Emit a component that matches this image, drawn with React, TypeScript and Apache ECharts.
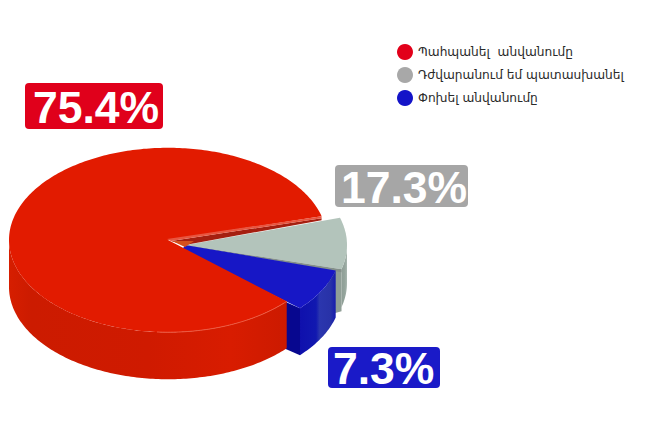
import React, { useEffect, useRef } from "react";
import * as echarts from "echarts";

// The printed shares and the slice sweeps do not agree in the source picture,
// so both are kept as they were read from it.
const categories = ["Պահպանել  անվանումը", "Դժվարանում եմ պատասխանել", "Փոխել անվանումը"];
const shares = [75.4, 17.3, 7.3];
const startAngles = [15, -15, -42.5];
const sweeps = [303.3, 32, 27.5];

const RATIO = 0.58;
const depths = [47, 38, 47];
const centres = [[168, 240], [186, 245], [185, 247]];
const radii = [159, 161, 156];
const topColors = ["#e21b00", "#b3c4bb", "#1717c6"];
const legendColors = ["#e2001a", "#a8a8a8", "#1414c8"];
const boxColors = ["#e0001b", "#a6a6a6", "#1a1ac8"];
const boxes = [[25, 83, 138, 46], [335, 165, 133, 42], [328, 347, 112, 41]];
const textPads = [8, 6, 5];

function pt(i: number, deg: number, dy = 0) {
  const a = (deg * Math.PI) / 180;
  return [
    centres[i][0] + radii[i] * Math.cos(a),
    centres[i][1] - radii[i] * RATIO * Math.sin(a) + dy,
  ];
}

function arc(i: number, from: number, to: number, dy = 0) {
  const n = Math.max(2, Math.ceil(Math.abs(to - from)));
  const out: number[][] = [];
  for (let k = 0; k <= n; k++) out.push(pt(i, from + ((to - from) * k) / n, dy));
  return out;
}

function sideShape(i: number, from: number, to: number) {
  return [...arc(i, from, to), ...arc(i, to, from, depths[i])];
}

function grad(stops: [number, string][]) {
  return new echarts.graphic.LinearGradient(
    0, 0, 1, 0,
    stops.map(([offset, color]) => ({ offset, color }))
  );
}

function poly(points: number[][], fill: any) {
  return { type: "polygon", shape: { points }, style: { fill } };
}

function renderSlice(i: number) {
  const start = startAngles[i];
  const end = start + sweeps[i];
  const [cx, cy] = centres[i];
  const children: any[] = [];
  if (i === 0) {
    children.push(
      poly(sideShape(0, 180, end), grad([
        [0, "#d61e00"], [0.08, "#cc1b00"], [0.5, "#cf1a00"], [0.8, "#d81c00"], [1, "#cc1a00"],
      ]))
    );
    children.push(poly([[cx, cy], ...arc(0, start, end)], topColors[0]));
    children.push({
      type: "polyline",
      shape: { points: arc(0, 266, end) },
      style: { stroke: "#ec5a42", lineWidth: 1, fill: "none" },
    });
    const tip = pt(0, start);
    children.push(poly([[cx + 3, cy + 1], [tip[0], tip[1] + 2], [tip[0], tip[1] + 4], [cx + 17, cy + 5]], "#a51f10"));
    children.push(poly([[cx - 1, cy - 1], tip, [tip[0], tip[1] + 2], [cx + 3, cy + 1]], "#e8553f"));
    children.push(poly([[cx + 4, cy + 1], [cx + 26, cy + 1], [cx + 17, cy + 7]], "#d4501e"));
  } else if (i === 1) {
    const low = pt(1, start);
    const d = depths[1];
    children.push(poly([low, [low[0], low[1] + d + 4], [low[0] - 14, low[1] + d + 8], [low[0] - 14, low[1]]], "#8f9e96"));
    children.push(
      poly(sideShape(1, start, Math.min(end, 0)), grad([[0, "#8f9e96"], [0.6, "#95a59d"], [1, "#a9b7b0"]]))
    );
    children.push(poly([[cx, cy], ...arc(1, start, end)], topColors[1]));
    children.push(poly([[cx, cy], low, [low[0], low[1] + 3], [cx + 3, cy + 1]], "#84908a"));
  } else {
    children.push(poly(sideShape(2, start, end), grad([
      [0, "#0f10ad"], [0.45, "#1118b0"], [0.55, "#2b36ae"], [0.85, "#2832a8"], [1, "#161cae"],
    ])));
    const c = pt(2, start);
    const left = [c[0] - 16, c[1] - 7];
    children.push(poly([left, c, [c[0], c[1] + depths[2]], [left[0], left[1] + depths[2]]], "#07078f"));
    children.push(poly([[cx, cy - 2], ...arc(2, end, start), [cx - 3, cy + 3]], topColors[2]));
  }
  return { type: "group", children };
}

function makeSeries(i: number) {
  return {
    type: "custom",
    name: categories[i],
    coordinateSystem: "none",
    silent: true,
    z: [4, 2, 3][i],
    itemStyle: { color: legendColors[i] },
    data: [{ value: shares[i], name: categories[i] }],
    renderItem: () => renderSlice(i),
  };
}

export default function App() {
  const ref = useRef<HTMLDivElement>(null);
  useEffect(() => {
    const chart = echarts.init(ref.current!, null, { renderer: "svg" });
    chart.setOption({
      animation: false,
      backgroundColor: "#ffffff",
      legend: {
        orient: "vertical",
        left: 392,
        top: 39,
        icon: "circle",
        itemWidth: 16,
        itemHeight: 16,
        itemGap: 7,
        selectedMode: false,
        data: categories,
        textStyle: { fontFamily: "DejaVu Sans", fontSize: 12.2, color: "#2a2a2a" },
      },
      series: categories.map((_, i) => makeSeries(i)),
      graphic: shares.flatMap((v, i) => [
        {
          type: "rect",
          z: 20,
          shape: { x: boxes[i][0], y: boxes[i][1], width: boxes[i][2], height: boxes[i][3], r: 4 },
          style: { fill: boxColors[i] },
        },
        {
          type: "text",
          z: 21,
          x: boxes[i][0] + textPads[i],
          y: boxes[i][1] + boxes[i][3] / 2 + 1,
          style: {
            text: `${v}%`,
            fill: "#ffffff",
            font: "bold 44.5px 'Liberation Sans'",
            align: "left",
            verticalAlign: "middle",
          },
        },
      ]),
    });
    return () => chart.dispose();
  }, []);
  return <div ref={ref} style={{ position: "absolute", left: 0, top: 0, width: 669, height: 445 }} />;
}
